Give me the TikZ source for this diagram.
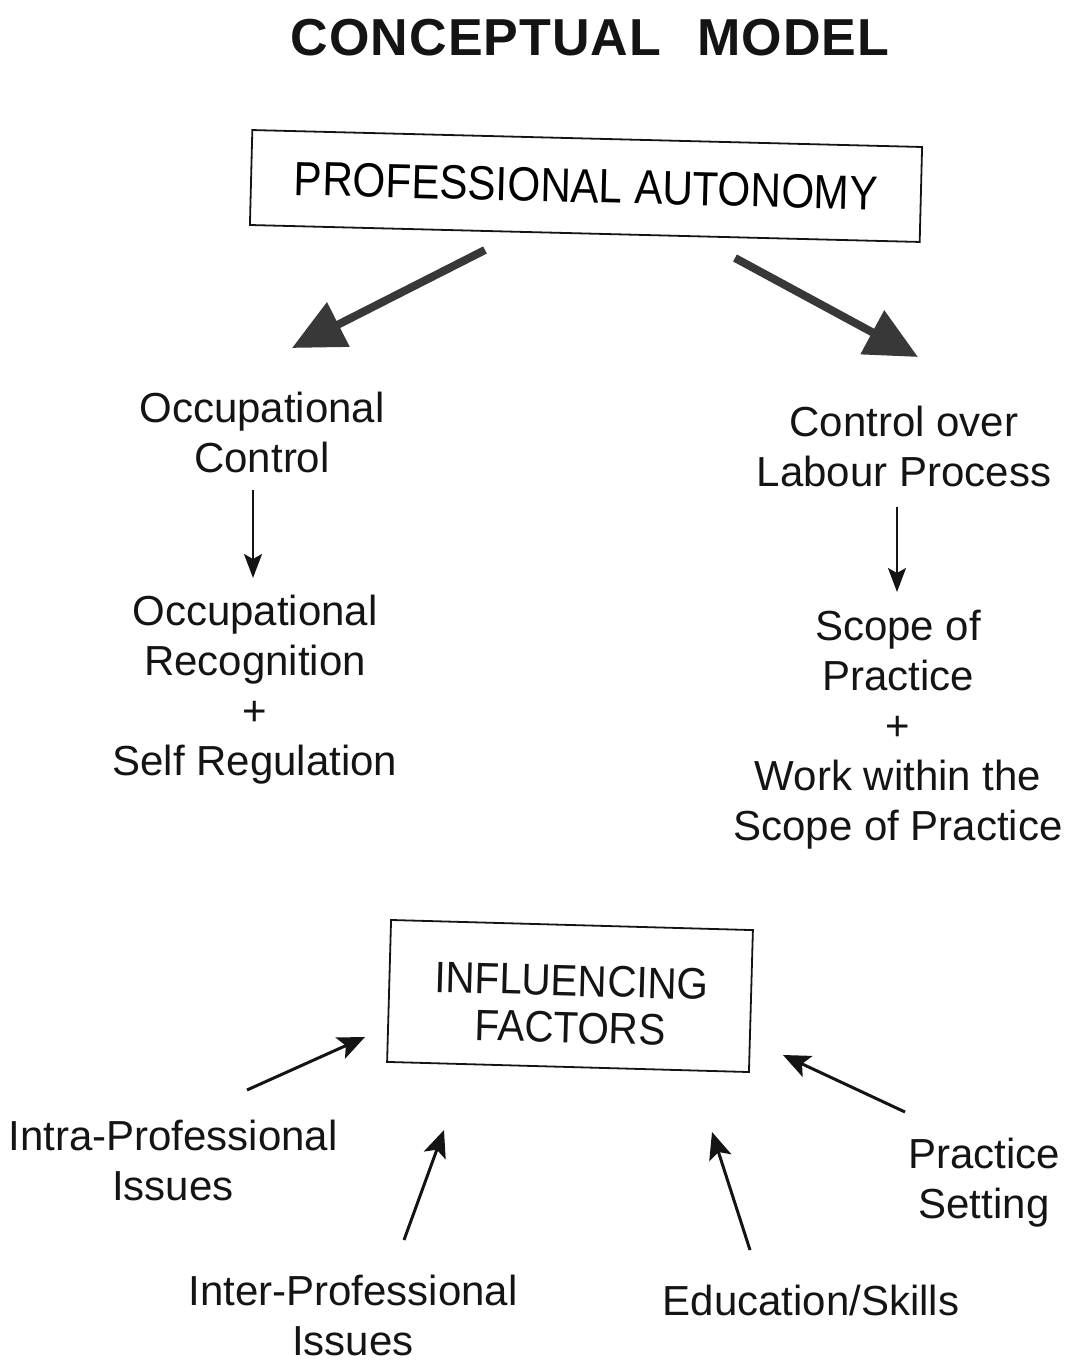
\documentclass[tikz,border=0pt]{standalone}
\usepackage{fontspec}
\setmainfont{Liberation Sans}
\newfontfamily\boxfont{Liberation Sans}[FakeStretch=0.88]
\newfontfamily\inflfont{Liberation Sans}[FakeStretch=0.92]
\newfontfamily\titlefont{Liberation Sans}[LetterSpace=2]
\usetikzlibrary{arrows.meta}
\definecolor{ink}{HTML}{141414}
\definecolor{headgray}{HTML}{383838}
\begin{document}
\begin{tikzpicture}[x=1pt,y=-1pt,
  txt/.style={inner sep=0pt, anchor=north, align=center, text=ink, font=\fontsize{42}{50}\selectfont},
  boxnode/.style={draw=ink, line width=1.8pt, inner sep=0pt},
  bigarrow/.style={draw=headgray, line width=8pt, -{Triangle[length=52pt,width=48pt]}},
  smallarrow/.style={draw=ink, line width=2pt, -{Stealth[length=24pt,width=18pt,inset=5pt]}},
  inarrow/.style={draw=ink, line width=3pt, -{Stealth[length=27pt,width=23pt,inset=6pt]}}]
\useasboundingbox (0,0) rectangle (1071,1362);

% title
\node[inner sep=0pt, text=ink, font=\titlefont\bfseries\fontsize{52}{60}\selectfont] (title) at (590,38) {CONCEPTUAL\hspace{36pt}MODEL};

% top box
\node[boxnode, rotate=-1.45, minimum width=670pt, minimum height=95pt,
      font=\boxfont\fontsize{48}{56}\selectfont] (pa) at (586,186) {PROFESSIONAL AUTONOMY};

% left column
\node[txt] (occ) at (262,392) {Occupational\\Control};
\node[txt] (occrec) at (255,595) {Occupational\\Recognition\\+\\Self Regulation};

% right column
\node[txt] (colp) at (904,406) {Control over\\Labour Process};
\node[txt] (scope) at (898,610) {Scope of\\Practice\\+\\Work within the\\Scope of Practice};

% influencing box
\node[boxnode, rotate=-1.6, minimum width=362pt, minimum height=142pt] (infl) at (570,996) {};
\node[inner sep=0pt, anchor=north, align=center, text=ink, rotate=-1.6,
      font=\inflfont\fontsize{44}{47}\selectfont] (infltext) at (572,965) {INFLUENCING\\FACTORS};

% factors
\node[txt] (intra) at (173,1120) {Intra-Professional\\Issues};
\node[txt] (inter) at (353,1275) {Inter-Professional\\Issues};
\node[txt] (edu) at (811,1285) {Education/Skills};
\node[txt] (setting) at (984,1138) {Practice\\Setting};

% arrow end points
\coordinate (la0) at (485,250); \coordinate (la1) at (292,348);
\coordinate (ra0) at (735,258); \coordinate (ra1) at (918,357);
\coordinate (lv0) at (253,490); \coordinate (lv1) at (253,578);
\coordinate (rv0) at (897,507); \coordinate (rv1) at (897,592);
\coordinate (b10) at (247,1090); \coordinate (b11) at (365,1037);
\coordinate (b20) at (404,1240); \coordinate (b21) at (444,1130);
\coordinate (b30) at (750,1250); \coordinate (b31) at (712,1132);
\coordinate (b40) at (905,1112); \coordinate (b41) at (783,1055);

\draw[bigarrow] (la0) -- (la1);
\draw[bigarrow] (ra0) -- (ra1);
\draw[smallarrow] (lv0) -- (lv1);
\draw[smallarrow] (rv0) -- (rv1);
\draw[inarrow] (b10) -- (b11);
\draw[inarrow] (b20) -- (b21);
\draw[inarrow] (b30) -- (b31);
\draw[inarrow] (b40) -- (b41);
\end{tikzpicture}
\end{document}
